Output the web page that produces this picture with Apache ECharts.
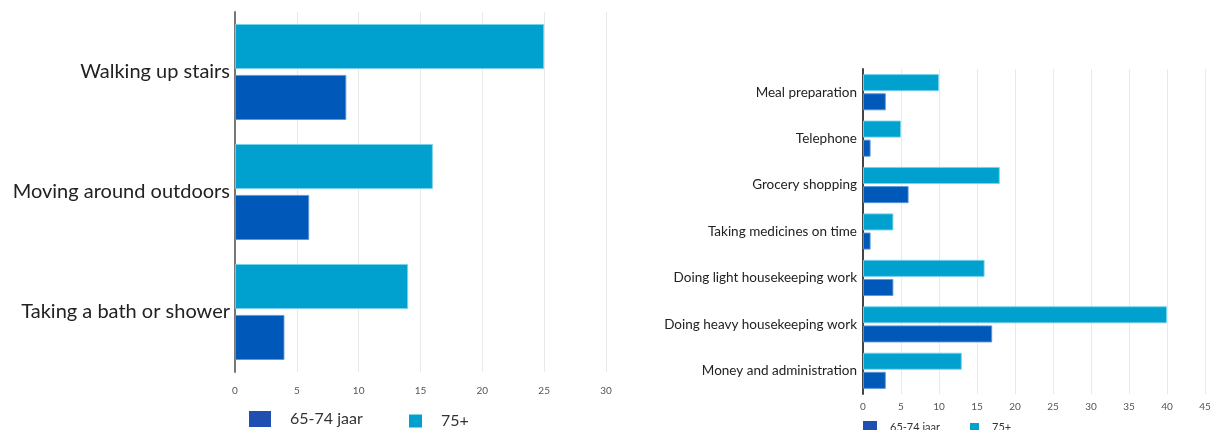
<!DOCTYPE html>
<html>
<head>
<meta charset="utf-8">
<script src="https://cdn.jsdelivr.net/npm/echarts@6/dist/echarts.min.js"></script>
<style>
  html, body { margin: 0; padding: 0; background: #fff; }
  #chart { width: 1214px; height: 430px; }
</style>
</head>
<body>
<div id="chart"></div>
<script>
// Mobility activities (left panel)
const mobilityCategories = ['Walking up stairs', 'Moving around outdoors', 'Taking a bath or shower'];
const mobility6574 = [9, 6, 4];
const mobility75 = [25, 16, 14];

// Household activities (right panel)
const householdCategories = [
  'Meal preparation', 'Telephone', 'Grocery shopping', 'Taking medicines on time',
  'Doing light housekeeping work', 'Doing heavy housekeeping work', 'Money and administration'
];
const household6574 = [3, 1, 6, 1, 4, 17, 3];
const household75 = [10, 5, 18, 4, 16, 40, 13];

const seriesNames = ['65-74 jaar', '75+'];
const DARK = '#0058b8';
const LIGHT = '#00a1ce';
const FONT = 'Lato, "Open Sans", sans-serif';

const chart = echarts.init(document.getElementById('chart'), null, { renderer: 'canvas' });

function bar(name, xi, data, color, border, catGap, gap) {
  return {
    name: name, type: 'bar', xAxisIndex: xi, yAxisIndex: xi, data: data,
    barCategoryGap: catGap, barGap: gap,
    itemStyle: { color: color, borderColor: border, borderWidth: 1 },
    emphasis: { disabled: true }
  };
}

function legend(name, left, top, w, h, color, fontSize) {
  return {
    data: [{ name: name, itemStyle: { color: color, borderWidth: 0 } }],
    left: left, top: top, itemWidth: w, itemHeight: h, icon: 'rect',
    selectedMode: false, padding: 0,
    textStyle: { fontFamily: FONT, fontSize: fontSize, color: '#333', padding: [0, 0, 0, fontSize > 12 ? 14 : 8] }
  };
}

chart.setOption({
  animation: false,
  backgroundColor: '#fff',
  grid: [
    { left: 235, right: 608, top: 12, bottom: 58 },
    { left: 863, right: 9, top: 69, bottom: 36 }
  ],
  xAxis: [
    {
      gridIndex: 0, type: 'value', min: 0, max: 30, interval: 5,
      axisLine: { show: false }, axisTick: { show: false },
      axisLabel: { fontFamily: FONT, fontSize: 10, color: '#555', margin: 14 },
      splitLine: { lineStyle: { color: '#e9e9e9', width: 1 } }
    },
    {
      gridIndex: 1, type: 'value', min: 0, max: 45, interval: 5,
      axisLine: { show: false }, axisTick: { show: false },
      axisLabel: { fontFamily: FONT, fontSize: 10, color: '#555', margin: 8 },
      splitLine: { lineStyle: { color: '#e9e9e9', width: 1 } }
    }
  ],
  yAxis: [
    {
      gridIndex: 0, type: 'category', data: mobilityCategories, inverse: true,
      axisLine: { lineStyle: { color: '#777', width: 2 } }, axisTick: { show: false },
      axisLabel: { fontFamily: FONT, fontSize: 20, color: '#222', margin: 5, padding: [5, 0, 0, 0] }
    },
    {
      gridIndex: 1, type: 'category', data: householdCategories, inverse: true,
      axisLine: { lineStyle: { color: '#444', width: 2 } }, axisTick: { show: false },
      axisLabel: { fontFamily: FONT, fontSize: 13.5, color: '#222', margin: 6, padding: [2, 0, 0, 0] }
    }
  ],
  legend: [
    legend(seriesNames[0], 249, 411, 22, 16, '#1f4fb0', 16),
    legend(seriesNames[1], 409, 413, 13, 13, LIGHT, 16),
    legend(seriesNames[0], 863, 421, 14, 12, '#1f4fb0', 11),
    legend(seriesNames[1], 970, 422, 9, 9, LIGHT, 11)
  ],
  series: [
    bar(seriesNames[1], 0, mobility75, LIGHT, 'rgba(120,210,235,0.9)', '20%', '13%'),
    bar(seriesNames[0], 0, mobility6574, DARK, 'rgba(90,150,215,0.9)', '20%', '13%'),
    bar(seriesNames[1], 1, household75, LIGHT, 'rgba(120,210,235,0.9)', '22%', '12%'),
    bar(seriesNames[0], 1, household6574, DARK, 'rgba(90,150,215,0.9)', '22%', '12%')
  ]
});
</script>
</body>
</html>
